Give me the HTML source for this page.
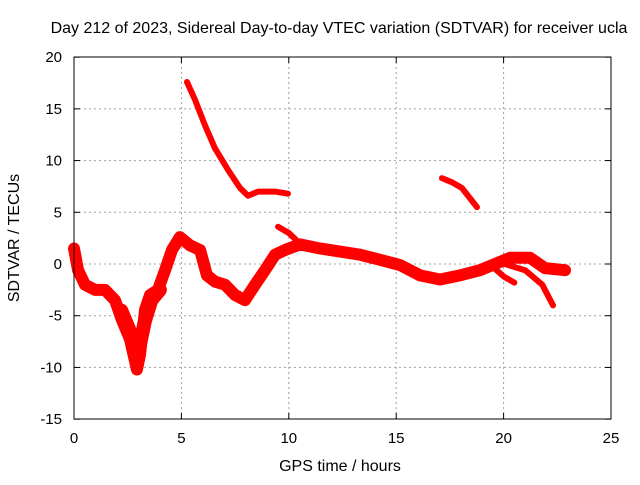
<!DOCTYPE html>
<html><head><meta charset="utf-8"><style>
body{margin:0;background:#fff;font-family:"Liberation Sans",sans-serif}
text{font-family:"Liberation Sans",sans-serif;font-size:15px;fill:#000}
</style></head><body>
<svg id="chart" width="640" height="480">
<text x="339" y="33" text-anchor="middle" style="font-size:16px">Day 212 of 2023, Sidereal Day-to-day VTEC variation (SDTVAR) for receiver ucla</text>
<g id="grid"></g>
<g id="ticks"></g>
<g id="series"></g>
<rect x="74" y="57" width="537" height="362" fill="none" stroke="#000" stroke-width="1"/>
<text x="340" y="471" text-anchor="middle" style="font-size:16px">GPS time / hours</text>
<text transform="translate(19,238) rotate(-90)" text-anchor="middle" style="font-size:16px">SDTVAR / TECUs</text>
</svg>
<script>
const xTicks=[0,5,10,15,20,25];
const yTicks=[-15,-10,-5,0,5,10,15,20];
const mainT=[0,0.19,0.51,0.98,1.44,1.91,2.23,2.61,2.93,3.07,3.31,3.54,3.91,4.24,4.56,4.93,5.4,5.87,6.19,6.56,7.03,7.5,7.96,8.43,8.89,9.36,9.82,10.52,11.45,12.38,13.31,14.25,15.18,16.11,17.04,17.97,18.9,19.83,20.3,21.23,21.93,22.86];
const mainV=[1.5,-0.6,-2,-2.5,-2.5,-3.5,-5.4,-7.3,-10.2,-8.8,-4.4,-3,-2.5,-0.6,1.35,2.6,1.8,1.35,-1.1,-1.7,-2,-3,-3.5,-2,-0.6,0.9,1.35,1.9,1.5,1.2,0.9,0.4,-0.1,-1.1,-1.5,-1.1,-0.6,0.2,0.6,0.6,-0.4,-0.6];
const dipT=[2.2,2.6,2.9,3.1,3.3,3.6,4.0];
const dipV=[-4.5,-6.5,-8.5,-7.5,-5.5,-3.5,-2.5];
const arcT=[5.26,5.63,6.1,6.56,7.17,7.73,8.1,8.57,9.36,9.96];
const arcV=[17.6,15.9,13.4,11.2,9.1,7.35,6.6,7.0,7.0,6.8];
const lateT=[17.13,17.6,18.06,18.76];
const lateV=[8.3,7.9,7.35,5.5];
const bumpT=[9.5,10,10.5];
const bumpV=[3.6,3.0,2.0];
const branch1T=[20.06,21.0,21.8,22.3];
const branch1V=[0,-0.6,-2,-4];
const branch2T=[19.4,20.0,20.5];
const branch2V=[-0.1,-1.2,-1.8];
const NS="http://www.w3.org/2000/svg";
const X=t=>74+t*537/25, Y=v=>264-v*362/35;
const grid=document.getElementById('grid'),ticks=document.getElementById('ticks'),ser=document.getElementById('series');
function mk(tag,a,p){const e=document.createElementNS(NS,tag);for(const k in a)e.setAttribute(k,a[k]);p.appendChild(e);return e;}
xTicks.forEach(t=>{const x=X(t);
 if(t>0&&t<25){const g=mk('line',{x1:x,x2:x,y1:57,y2:419,stroke:'#a0a0a0','stroke-dasharray':'2,3'},grid);
 
 }
 const l=mk('text',{x:x,y:443,'text-anchor':'middle'},ticks);l.textContent=t;
 
 
 mk('line',{x1:x,x2:x,y1:419,y2:413,stroke:'#000'},ticks);mk('line',{x1:x,x2:x,y1:57,y2:63,stroke:'#000'},ticks);});
yTicks.forEach(v=>{const y=Y(v);
 if(v>-15&&v<20){const g=mk('line',{x1:74,x2:611,y1:y,y2:y,stroke:'#a0a0a0','stroke-dasharray':'2,3'},grid);
 
 }
 const l=mk('text',{x:62,y:y+5,'text-anchor':'end'},ticks);l.textContent=v;
 
 
 mk('line',{x1:74,x2:80,y1:y,y2:y,stroke:'#000'},ticks);mk('line',{x1:611,x2:605,y1:y,y2:y,stroke:'#000'},ticks);});
function draw(ts,vs,w,name){
 const pts=ts.map((t,i)=>X(t)+','+Y(vs[i])).join(' ');
 const p=mk('polyline',{points:pts,fill:'none',stroke:'#f00','stroke-width':w,'stroke-linejoin':'round','stroke-linecap':'round'},ser);
 
 
}
draw(mainT,mainV,12,'main-series');
draw(dipT,dipV,14,'dip-series');
draw(arcT,arcV,6,'arc-series');
draw(lateT,lateV,6,'late-series');
draw(bumpT,bumpV,6,'bump-series');
draw(branch1T,branch1V,6,'branch-series-1');
draw(branch2T,branch2V,6,'branch-series-2');
</script>
</body></html>
